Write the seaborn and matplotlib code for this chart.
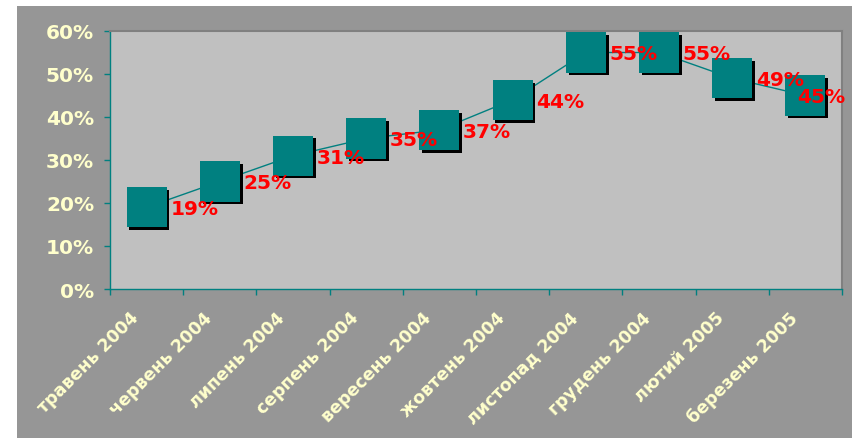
import matplotlib.pyplot as plt
import matplotlib.patheffects as pe
import matplotlib.transforms as mtransforms
from matplotlib.patches import Rectangle
import pandas as pd
import seaborn as sns

months = ["травень 2004", "червень 2004", "липень 2004", "серпень 2004",
          "вересень 2004", "жовтень 2004", "листопад 2004", "грудень 2004",
          "лютий 2005", "березень 2005"]
share = [19, 25, 31, 35, 37, 44, 55, 55, 49, 45]
yticks = [0, 10, 20, 30, 40, 50, 60]

TEAL = "#008080"
PALE = "#FFFFCC"


def main() -> None:
    sns.set_style("white")
    plt.rcParams["font.family"] = ["DejaVu Sans"]

    df = pd.DataFrame({"pos": range(len(months)), "month": months, "share": share})

    fig = plt.figure(figsize=(8.52, 4.39), dpi=100)
    fig.patch.set_facecolor("white")
    fig.patches.append(Rectangle((17 / 852, 0), 1 - 17 / 852, 1 - 7 / 439,
                                 transform=fig.transFigure, facecolor="#969696",
                                 edgecolor="none", zorder=-10))
    ax = fig.add_axes([110 / 852, 1 - 290 / 439, 732 / 852, 258 / 439])
    ax.set_facecolor("#C0C0C0")

    sns.lineplot(data=df, x="pos", y="share", color=TEAL, linewidth=1, ax=ax, zorder=2)
    sns.scatterplot(data=df, x="pos", y="share", marker="s", s=830, color=TEAL,
                    edgecolor="none", linewidth=0, ax=ax, zorder=3,
                    path_effects=[pe.SimplePatchShadow(offset=(2, -2),
                                                       shadow_rgbFace="black", alpha=1),
                                  pe.Normal()])

    # value labels to the right of the markers; last one pushed back inside
    for i, v in enumerate(share):
        dx = 17 if i < len(share) - 1 else -6
        ax.annotate(f"{v}%", (i, v), xytext=(dx, -1), textcoords="offset points",
                    ha="left", va="center", color="red", fontsize=14.5,
                    fontweight="bold", zorder=4)

    ax.set_xlim(-0.5, len(months) - 0.5)
    ax.set_ylim(0, 60)
    ax.set_yticks(yticks)
    ax.set_yticklabels([f"{t}%" for t in yticks])
    ax.set_xticks(range(len(months)))
    ax.set_xticklabels(months, rotation=45, ha="right", va="top", rotation_mode="anchor")
    ax.set_xticks([i - 0.5 for i in range(len(months) + 1)], minor=True)
    ax.tick_params(axis="x", which="major", length=0, pad=14, labelsize=12.5, labelcolor=PALE)
    ax.tick_params(axis="x", which="minor", length=4.5, width=1, color=TEAL, direction="out")
    ax.tick_params(axis="y", length=4.5, width=1, color=TEAL, direction="out", pad=7,
                   labelsize=14.5, labelcolor=PALE)
    ax.tick_params(left=True, bottom=True, which="both")
    shift = mtransforms.ScaledTranslation(-17 / 100, 0, fig.dpi_scale_trans)
    for lab in ax.get_xticklabels():
        lab.set_transform(lab.get_transform() + shift)
    for lab in ax.get_xticklabels() + ax.get_yticklabels():
        lab.set_fontweight("bold")

    ax.set_xlabel("")
    ax.set_ylabel("")
    for side in ["left", "bottom"]:
        ax.spines[side].set_color(TEAL)
        ax.spines[side].set_linewidth(1)
    for side in ["top", "right"]:
        ax.spines[side].set_color("#808080")
        ax.spines[side].set_linewidth(1.5)
    ax.grid(False)

    fig.savefig("out.png", dpi=100, facecolor=fig.get_facecolor())
    plt.close(fig)


if __name__ == "__main__":
    main()
